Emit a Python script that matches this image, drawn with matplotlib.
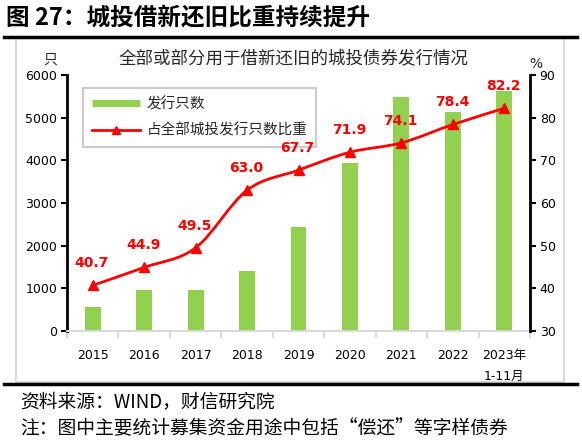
import matplotlib
matplotlib.use("Agg")
import matplotlib.pyplot as plt
from matplotlib.path import Path
from matplotlib.patches import PathPatch, Rectangle
from matplotlib.lines import Line2D
import numpy as np

plt.rcParams['font.family'] = ['Noto Sans CJK SC', 'DejaVu Sans']

categories = ['2015', '2016', '2017', '2018', '2019', '2020', '2021', '2022', '2023年\n1-11月']
counts = [560, 970, 970, 1405, 2430, 3940, 5490, 5125, 5625]
ratio = [40.7, 44.9, 49.5, 63.0, 67.7, 71.9, 74.1, 78.4, 82.2]

left_ticks = [0, 1000, 2000, 3000, 4000, 5000, 6000]
right_ticks = [30, 40, 50, 60, 70, 80, 90]

BAR = '#92D050'
RED = '#FF0000'

fig = plt.figure(figsize=(5.82, 4.45), dpi=100)

# decorations
fig.add_artist(Rectangle((16/582, 1-382/445), (564-16)/582, (382-38)/445,
                         transform=fig.transFigure, fill=False, edgecolor='#D9D9D9', lw=1.5))
fig.add_artist(Line2D([4/582, 577/582], [1-36.5/445, 1-36.5/445], transform=fig.transFigure,
                      color='black', lw=2.5))
fig.add_artist(Line2D([4/582, 577/582], [1-384/445, 1-384/445], transform=fig.transFigure,
                      color='black', lw=2.5))
fig.text(6/582, 1-18/445, '图 27：城投借新还旧比重持续提升', fontsize=17, fontweight='bold',
         va='center', ha='left', color='black')
fig.text(294/582, 1-58/445, '全部或部分用于借新还旧的城投债券发行情况', fontsize=12.6,
         va='center', ha='center', color='#262626')
fig.text(50/582, 1-60/445, '只', fontsize=10, va='center', ha='center', color='#262626')
fig.text(536/582, 1-64/445, '%', fontsize=10, va='center', ha='center', color='#262626',
         family=['DejaVu Sans'])
fig.text(20/582, 1-402/445, '资料来源：WIND，财信研究院', fontsize=13.5, va='center', ha='left',
         style='italic', color='black')
fig.text(20/582, 1-429/445, '注：图中主要统计募集资金用途中包括“偿还”等字样债券', fontsize=13.5,
         va='center', ha='left', style='italic', color='black')

ax = fig.add_axes([67/582, 1-331/445, (530-67)/582, (331-75)/445])
x = np.arange(len(categories))
ax.bar(x, counts, width=0.31, color=BAR, zorder=2)
ax.set_xlim(-0.5, len(categories)-0.5)
ax.set_ylim(0, 6000)
ax.set_yticks(left_ticks)
ax.set_yticklabels([str(v) for v in left_ticks], family=['DejaVu Sans'], fontsize=9)

ax.set_xticks(np.arange(-0.5, len(categories), 1.0))
ax.set_xticklabels([])
ax.set_xticks(x, minor=True)
ax.set_xticklabels(categories, minor=True, fontsize=9, family=['DejaVu Sans', 'Noto Sans CJK SC'],
                   va='top', linespacing=1.75)
ax.tick_params(axis='x', which='major', length=5, color='#D9D9D9', width=1.5, direction='out')
ax.tick_params(axis='x', which='minor', length=0, pad=13)
ax.tick_params(axis='y', length=4, width=1.5, color='black', direction='out', pad=3)

for s in ['top', 'right']:
    ax.spines[s].set_visible(False)
ax.spines['left'].set_linewidth(2)
ax.spines['bottom'].set_color('#D9D9D9')
ax.spines['bottom'].set_linewidth(1.5)

ax2 = ax.twinx()
ax2.set_ylim(30, 90)
ax2.set_yticks(right_ticks)
ax2.set_yticklabels([str(v) for v in right_ticks], family=['DejaVu Sans'], fontsize=9)
ax2.tick_params(axis='y', length=4, width=1.5, color='black', direction='out', pad=3)
for s in ['top', 'left', 'bottom']:
    ax2.spines[s].set_visible(False)
ax2.spines['right'].set_linewidth(2)

# smoothed line (Catmull-Rom style Bezier through the data points)
P = np.column_stack([x, ratio]).astype(float)
n = len(P)
verts = [tuple(P[0])]
codes = [Path.MOVETO]
for i in range(n-1):
    p0 = P[i-1] if i > 0 else P[i]
    p1 = P[i]
    p2 = P[i+1]
    p3 = P[i+2] if i+2 < n else P[i+1]
    c1 = p1 + (p2 - p0) / 6.0
    c2 = p2 - (p3 - p1) / 6.0
    verts += [tuple(c1), tuple(c2), tuple(p2)]
    codes += [Path.CURVE4]*3
ax2.add_patch(PathPatch(Path(verts, codes), fill=False, edgecolor=RED, lw=2, zorder=3))
ax2.plot(x, ratio, linestyle='none', marker='^', markersize=7, color=RED, zorder=4)

for xi, v in zip(x, ratio):
    ax2.annotate(f'{v:.1f}', (xi, v), xytext=(-1, 22), textcoords='offset pixels',
                 ha='center', va='center', color=RED, fontweight='bold', fontsize=10,
                 family=['DejaVu Sans'])

handles = [Line2D([], [], color=BAR, lw=5, solid_capstyle='butt'),
           Line2D([], [], color=RED, lw=2, marker='^', markersize=6)]
leg = ax.legend(handles, ['发行只数', '占全部城投发行只数比重'], loc='upper left',
                bbox_to_anchor=(0.0346, 0.949), borderaxespad=0, fontsize=10.5, frameon=True,
                fancybox=False, handlelength=3.3, labelspacing=0.85, borderpad=0.6,
                handletextpad=0.45)
leg.get_frame().set_edgecolor('#BFBFBF')
leg.get_frame().set_linewidth(1.5)
for t in leg.get_texts():
    t.set_color('#262626')
leg.set_zorder(5)

fig.savefig('out.png', dpi=100)
